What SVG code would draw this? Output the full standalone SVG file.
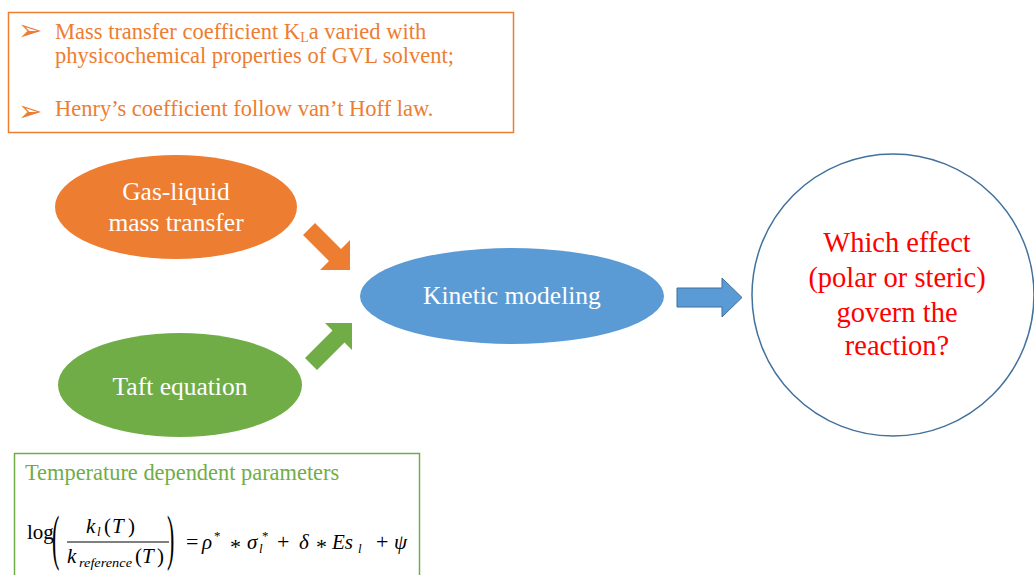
<svg xmlns="http://www.w3.org/2000/svg" width="1034" height="575" viewBox="0 0 1034 575">
<style>
.serif{font-family:"Liberation Serif","Times New Roman",serif}
.orangeTxt{fill:#ed7d31;font-size:22.5px}
.nodeTxt{fill:#ffffff;font-size:25.5px;text-anchor:middle}
.qTxt{fill:#ff0000;font-size:28.5px;text-anchor:middle}
.greenTxt{fill:#70ad47;font-size:22.4px}
.math{fill:#000000;font-size:21px}
.sub{fill:#000000;font-size:13px;font-style:italic}
.sup{fill:#000000;font-size:13px}
.op{fill:#000000;font-size:22px}
.it{font-style:italic}
.bullet{font-family:"DejaVu Sans",sans-serif;font-size:29px;fill:#ed7d31}
</style>
<rect width="1034" height="575" fill="#ffffff"/>

<g id="note-top">
<rect x="8.5" y="12.5" width="505" height="120" fill="none" stroke="#ed7d31" stroke-width="1.5"/>
<text class="bullet" x="18" y="40">➢</text>
<text class="serif orangeTxt" x="55" y="39">Mass transfer coefficient K<tspan font-size="14" dy="3">L</tspan><tspan dy="-3">a varied with</tspan></text>
<text class="serif orangeTxt" x="55" y="63">physicochemical properties of GVL solvent;</text>
<text class="bullet" x="18" y="121">➢</text>
<text class="serif orangeTxt" x="55" y="116">Henry’s coefficient follow van’t Hoff law.</text>
</g>

<g id="node-gas-liquid">
<ellipse cx="176" cy="207" rx="121" ry="52" fill="#ed7d31"/>
<text class="serif nodeTxt" x="176" y="200">Gas-liquid</text>
<text class="serif nodeTxt" x="176" y="231">mass transfer</text>
</g>

<g id="node-taft">
<ellipse cx="180" cy="385" rx="122" ry="52" fill="#70ad47"/>
<text class="serif nodeTxt" x="180" y="395">Taft equation</text>
</g>

<g id="node-kinetic">
<ellipse cx="512" cy="296" rx="152" ry="48" fill="#5b9bd5"/>
<text class="serif nodeTxt" x="512" y="304">Kinetic modeling</text>
</g>

<g id="node-question">
<circle cx="893" cy="295" r="141" fill="#ffffff" stroke="#41719c" stroke-width="1.5"/>
<text class="serif qTxt" x="897" y="252">Which effect</text>
<text class="serif qTxt" x="897" y="287">(polar or steric)</text>
<text class="serif qTxt" x="897" y="322">govern the</text>
<text class="serif qTxt" x="897" y="355">reaction?</text>
</g>

<g id="connectors">
<polygon points="315,223 341,249 350,240 350,270 320,270 329,261 303,235" fill="#ed7d31"/>
<polygon points="305,358 332.5,330.5 325,323 352,323 352,350 344.5,342.5 317,370" fill="#70ad47"/>
<polygon points="677,288 722,288 722,278 742,297.5 722,317 722,307 677,307" fill="#5b9bd5" stroke="#41719c" stroke-width="1"/>
</g>

<g id="note-bottom">
<rect x="14.5" y="453.5" width="405" height="130" fill="none" stroke="#70ad47" stroke-width="1.5"/>
<text class="serif greenTxt" x="25" y="480">Temperature dependent parameters</text>
<text class="serif math" x="27" y="539">log</text>
<text class="serif" x="52" y="0" font-size="22" fill="#000" transform="translate(0,558) scale(1,2.75)">(</text>
<text class="serif math it" x="86" y="533">k</text>
<text class="serif sub" x="97" y="536">l</text>
<text class="serif math" x="104" y="533">(</text>
<text class="serif math it" x="112" y="533">T</text>
<text class="serif math" x="128" y="533">)</text>
<line x1="67" y1="542" x2="169" y2="542" stroke="#000" stroke-width="1"/>
<text class="serif math it" x="67" y="563">k</text>
<text class="serif sub" x="79" y="567" textLength="53" lengthAdjust="spacingAndGlyphs">reference</text>
<text class="serif math" x="135" y="563">(</text>
<text class="serif math it" x="142" y="563">T</text>
<text class="serif math" x="157" y="563">)</text>
<text class="serif" x="167" y="0" font-size="22" fill="#000" transform="translate(0,558) scale(1,2.75)">)</text>
<text class="serif op" x="186" y="549">=</text>
<text class="serif math it" x="202" y="549">ρ</text>
<text class="serif sup" x="214" y="540">*</text>
<text class="serif op" x="230" y="554">*</text>
<text class="serif math it" x="247" y="549">σ</text>
<text class="serif sub" x="259" y="553">l</text>
<text class="serif sup" x="262" y="540">*</text>
<text class="serif op" x="277" y="549">+</text>
<text class="serif math it" x="299" y="549">δ</text>
<text class="serif op" x="316" y="554">*</text>
<text class="serif math it" x="332" y="549" font-size="23">Es</text>
<text class="serif sub" x="358" y="553">l</text>
<text class="serif op" x="376" y="549">+</text>
<text class="serif math it" x="394" y="549">ψ</text>
</g>
</svg>
